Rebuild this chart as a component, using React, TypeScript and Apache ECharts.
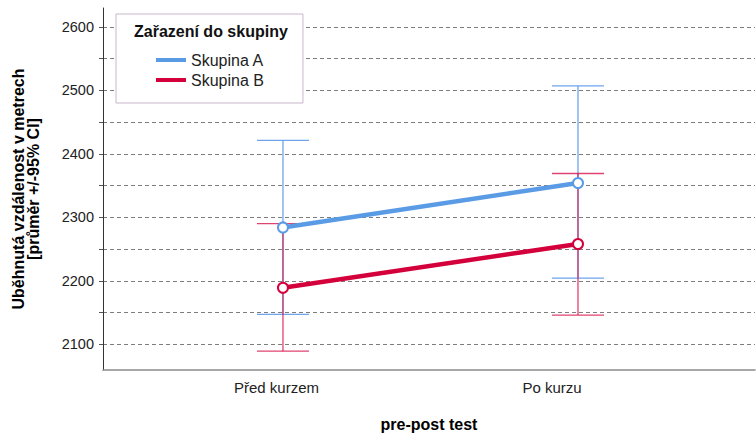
import React, { useEffect, useRef } from "react";
import * as echarts from "echarts";

const categories = ["Před kurzem", "Po kurzu"];
const seriesNames = ["Skupina A", "Skupina B"];
const meanA = [2284, 2354];
const lowA = [2147, 2204];
const highA = [2421, 2507];
const meanB = [2189, 2258];
const lowB = [2089, 2146];
const highB = [2290, 2369];
const yLabelValues = [2100, 2200, 2300, 2400, 2500, 2600];
const yGridValues = [2100, 2150, 2200, 2250, 2300, 2350, 2400, 2450, 2500, 2550, 2600];
const legendTitle = "Zařazení do skupiny";
const yTitle = "Uběhnutá vzdálenost v metrech\n[průměr +/-95% CI]";
const xTitle = "pre-post test";

const FONT = "'Liberation Sans', Arial, sans-serif";
const BLUE = "#5a9be6";
const RED = "#d4003c";
const BLUE_ERR = "rgba(100,160,235,0.95)";
const RED_ERR = "rgba(215,20,75,0.8)";

function errRender(color: string) {
  return (params: any, api: any) => {
    const x = api.value(0);
    const lo = api.coord([x, api.value(1)]);
    const hi = api.coord([x, api.value(2)]);
    const hw = 26;
    const style = { stroke: color, lineWidth: 1.3, fill: "none" };
    return {
      type: "group",
      children: [
        { type: "line", shape: { x1: lo[0], y1: lo[1], x2: hi[0], y2: hi[1] }, style },
        { type: "line", shape: { x1: hi[0] - hw, y1: hi[1], x2: hi[0] + hw, y2: hi[1] }, style },
        { type: "line", shape: { x1: lo[0] - hw, y1: lo[1], x2: lo[0] + hw, y2: lo[1] }, style },
      ],
    };
  };
}

export default function App() {
  const ref = useRef<HTMLDivElement>(null);
  useEffect(() => {
    if (!ref.current) return;
    const chart = echarts.init(ref.current, undefined, { renderer: "svg" });
    const catIdx = categories.map((_, i) => i);
    const option: any = {
      animation: false,
      backgroundColor: "#ffffff",
      textStyle: { fontFamily: FONT },
      grid: { left: 103, right: 1, top: 8, bottom: 64, containLabel: false },
      xAxis: {
        type: "value",
        min: -0.61,
        max: 1.6,
        name: xTitle,
        nameLocation: "middle",
        nameGap: 46,
        nameTextStyle: { fontFamily: FONT, fontSize: 16, fontWeight: "bold", color: "#000" },
        axisLine: { show: true, onZero: false, lineStyle: { color: "#8a8a8a", width: 1.5 } },
        axisTick: { show: false },
        splitLine: { show: false },
        axisLabel: {
          customValues: catIdx,
          margin: 10,
          fontFamily: FONT,
          fontSize: 15,
          formatter: (v: number) => {
            const i = Math.round(v);
            return i === 0 ? `{a|${categories[0]}}` : `{b|${categories[1]}}`;
          },
          rich: {
            a: { fontFamily: FONT, fontSize: 15, color: "#222", padding: [0, 13, 0, 0] },
            b: { fontFamily: FONT, fontSize: 15, color: "#222", padding: [0, 52, 0, 0] },
          },
        },
      },
      yAxis: {
        type: "value",
        min: 2059.4,
        max: 2629.7,
        name: yTitle,
        nameLocation: "middle",
        nameRotate: 90,
        nameGap: 62,
        nameTextStyle: { fontFamily: FONT, fontSize: 16, fontWeight: "bold", color: "#000", lineHeight: 15 },
        axisLine: { show: true, onZero: false, lineStyle: { color: "#333", width: 1 } },
        axisTick: { show: true, customValues: yGridValues, length: 4, lineStyle: { color: "#555" } },
        axisLabel: {
          customValues: yLabelValues,
          margin: 9,
          fontFamily: FONT,
          fontSize: 14.5,
          color: "#222",
          formatter: (v: number) => String(Math.round(v)),
        },
        splitLine: { show: true, lineStyle: { color: "#7d7d7d", type: [4, 3], width: 1 } },
      },
      legend: {
        orient: "vertical",
        left: 116,
        top: 14,
        data: seriesNames,
        icon: "rect",
        itemWidth: 30,
        itemHeight: 4,
        itemGap: 0,
        padding: [36, 39, 13, 40],
        borderColor: "#c8b6cc",
        borderWidth: 1,
        backgroundColor: "#ffffff",
        textStyle: { fontFamily: FONT, fontSize: 16, color: "#222", lineHeight: 20 },
      },
      graphic: [
        {
          type: "text",
          left: 134,
          top: 23,
          z: 100,
          style: { text: legendTitle, fontFamily: FONT, fontSize: 16, fontWeight: "bold", fill: "#111" },
        },
      ],
      series: [
        {
          type: "custom",
          name: "errA",
          renderItem: errRender(BLUE_ERR),
          encode: { x: 0, y: [1, 2] },
          data: catIdx.map((i) => [i, lowA[i], highA[i]]),
          z: 2,
          silent: true,
        },
        {
          type: "custom",
          name: "errB",
          renderItem: errRender(RED_ERR),
          encode: { x: 0, y: [1, 2] },
          data: catIdx.map((i) => [i, lowB[i], highB[i]]),
          z: 3,
          silent: true,
        },
        {
          type: "line",
          name: seriesNames[0],
          data: catIdx.map((i) => [i, meanA[i]]),
          color: BLUE,
          symbol: "emptyCircle",
          symbolSize: 10,
          itemStyle: { color: BLUE, borderWidth: 1.3 },
          lineStyle: { color: BLUE, width: 4.5 },
          z: 4,
        },
        {
          type: "line",
          name: seriesNames[1],
          data: catIdx.map((i) => [i, meanB[i]]),
          color: RED,
          symbol: "emptyCircle",
          symbolSize: 10,
          itemStyle: { color: RED, borderWidth: 1.3 },
          lineStyle: { color: RED, width: 4.5 },
          z: 5,
        },
      ],
    };
    chart.setOption(option);
    return () => chart.dispose();
  }, []);
  return <div ref={ref} style={{ width: 756, height: 437, position: "absolute", left: 0, top: 0 }} />;
}
